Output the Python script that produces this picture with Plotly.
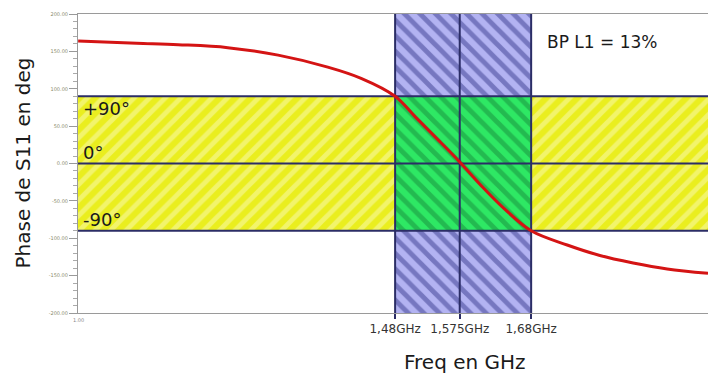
import plotly.graph_objects as go

# ---- data ----
freq_ghz = [1.014, 1.10, 1.161, 1.234, 1.308, 1.381, 1.430, 1.48, 1.51, 1.545,
            1.575, 1.605, 1.64, 1.68, 1.733, 1.781, 1.830, 1.880, 1.94]
phase_deg = [164, 161, 159, 155, 145, 129, 114, 90, 62, 30,
             2, -28, -60, -90, -109, -123, -133, -141, -147]

band_freqs = [1.48, 1.575, 1.68]
band_labels = ["1,48GHz", "1,575GHz", "1,68GHz"]
phase_levels = [90, 0, -90]
phase_level_labels = ["+90°", "0°", "-90°"]
y_tick_vals = [200, 150, 100, 50, 0, -50, -100, -150, -200]
y_tick_text = ["200.00", "150.00", "100.00", "50.00", "0.00", "-50.00", "-100.00", "-150.00", "-200.00"]
x_range = [1.0138, 1.94]
y_range = [-200, 200]
bp_text = "BP L1 = 13%"

FONT = "DejaVu Sans"
NAVY = "#2b2d66"

fig = go.Figure()

def rect(x0, x1, y0, y1, bg, fg, shape, size=11, sol=0.45):
    fig.add_trace(go.Scatter(
        x=[x0, x1, x1, x0, x0], y=[y0, y0, y1, y1, y0],
        mode="lines", line=dict(width=0), fill="toself", fillcolor=bg,
        fillpattern=dict(shape=shape, bgcolor=bg, fgcolor=fg, size=size, solidity=sol),
        hoverinfo="skip", showlegend=False))

# yellow horizontal band
rect(x_range[0], x_range[1], phase_levels[2], phase_levels[0], "#eaee1e", "#f9f9b8", "/")
# blue vertical band
rect(band_freqs[0], band_freqs[2], y_range[0], y_range[1], "#b3b3f2", "#3a3c8e", "\\")
# green intersection
rect(band_freqs[0], band_freqs[2], phase_levels[2], phase_levels[0], "#2ee864", "#178c3c", "\\")

# horizontal dark lines
for lv in phase_levels:
    fig.add_trace(go.Scatter(x=x_range, y=[lv, lv], mode="lines",
                             line=dict(color=NAVY, width=2), hoverinfo="skip", showlegend=False))
# vertical dark lines
for f in band_freqs:
    fig.add_trace(go.Scatter(x=[f, f], y=y_range, mode="lines",
                             line=dict(color=NAVY, width=2), hoverinfo="skip", showlegend=False))

# phase curve
fig.add_trace(go.Scatter(x=freq_ghz, y=phase_deg, mode="lines", line=dict(color="#d41414", width=3, shape="spline"),
                         showlegend=False))

ann = []
ann.append(dict(x=x_range[0], y=phase_levels[0], text=phase_level_labels[0], xanchor="left", yanchor="top",
                xshift=3, yshift=0, showarrow=False, font=dict(size=18, color="#1a1a1a", family=FONT)))
ann.append(dict(x=x_range[0], y=phase_levels[1], text=phase_level_labels[1], xanchor="left", yanchor="bottom",
                xshift=3, yshift=-1, showarrow=False, font=dict(size=18, color="#1a1a1a", family=FONT)))
ann.append(dict(x=x_range[0], y=phase_levels[2], text=phase_level_labels[2], xanchor="left", yanchor="bottom",
                xshift=3, yshift=-1, showarrow=False, font=dict(size=18, color="#1a1a1a", family=FONT)))
ann.append(dict(xref="paper", yref="paper", x=(545 - 78) / 630, y=(313 - 42) / 299, text=bp_text,
                xanchor="left", yanchor="middle", showarrow=False, font=dict(size=17, color="#1a1a1a", family=FONT)))
ann.append(dict(xref="paper", yref="paper", x=(22 - 78) / 630, y=0.5, text="Phase de S11 en deg", textangle=-90,
                xanchor="center", yanchor="middle", showarrow=False, font=dict(size=20, color="#1a1a1a", family=FONT)))
ann.append(dict(xref="paper", yref="paper", x=(465 - 78) / 630, y=(313 - 362) / 299, text="Freq en GHz",
                xanchor="center", yanchor="middle", showarrow=False, font=dict(size=20, color="#1a1a1a", family=FONT)))
ann.append(dict(xref="paper", yref="paper", x=0, y=0, yshift=-7, text="1.00",
                xanchor="center", yanchor="middle", showarrow=False, font=dict(size=5, color="#888", family=FONT)))

fig.update_layout(
    width=708, height=374,
    margin=dict(l=78, r=0, t=14, b=61),
    plot_bgcolor="white", paper_bgcolor="white",
    annotations=ann,
    xaxis=dict(range=x_range, tickvals=band_freqs, ticktext=band_labels, ticks="outside", ticklen=5,
               tickcolor=NAVY, tickwidth=2, showgrid=False, zeroline=False,
               showline=True, linecolor="#9a9a9a", linewidth=1, mirror=True,
               tickfont=dict(size=12, color="#333", family=FONT)),
    yaxis=dict(range=y_range, tickvals=y_tick_vals, ticktext=y_tick_text, ticks="outside", ticklen=8,
               tickcolor="#999", showgrid=False, zeroline=False, showline=True, linecolor="#9a9a9a",
               linewidth=1, tickfont=dict(size=5, color="#8a8a6a", family=FONT),
               minor=dict(dtick=10, ticks="outside", ticklen=4, tickcolor="#aaa", showgrid=False)),
)

fig.write_html("out.html", config={"displayModeBar": False},
               post_script="document.body.style.margin='0';document.body.style.overflow='hidden';")
